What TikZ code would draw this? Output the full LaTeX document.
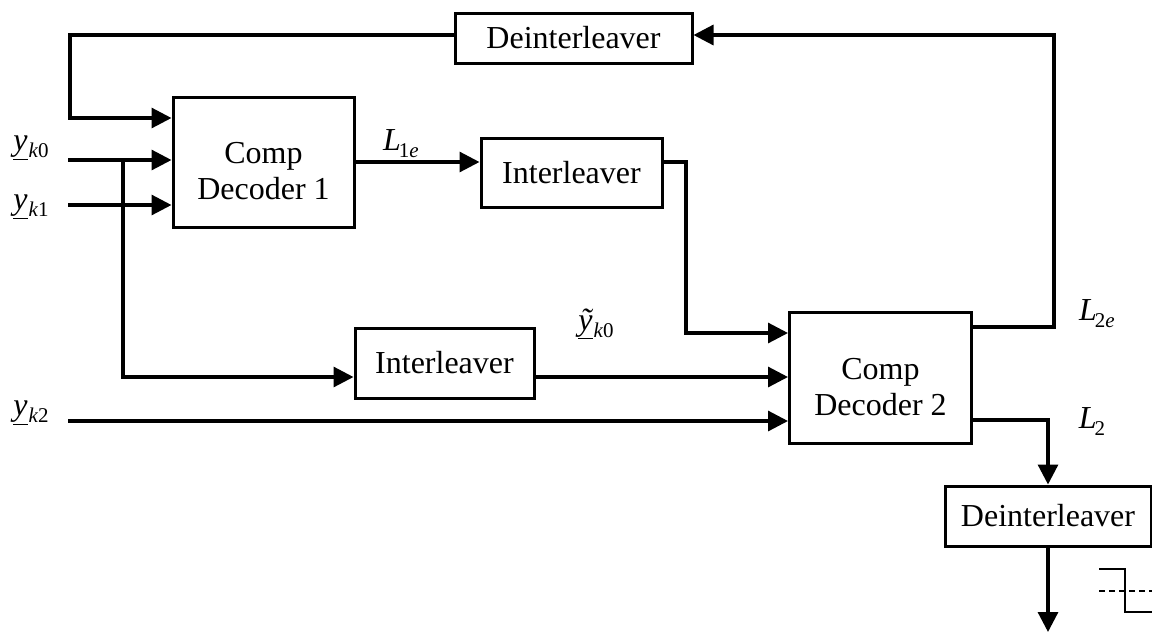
\documentclass[tikz,border=0pt]{standalone}
\usepackage{fontspec}
\setmainfont{Liberation Serif}
\usetikzlibrary{arrows.meta}
% subscripted signal names
\newcommand{\yvar}[2]{\underline{\itshape #1}\kern1pt\raisebox{-7pt}{\fontsize{21}{21}\selectfont\itshape k\upshape #2}}
\newcommand{\Lvar}[1]{{\itshape L}\kern-2pt\raisebox{-7pt}{\fontsize{21}{21}\selectfont #1}}
\newcommand{\twolines}[2]{\raisebox{-19pt}[0pt][0pt]{\begin{tabular}{@{}c@{}}#1\\#2\end{tabular}}}
\begin{document}
\begin{tikzpicture}[x=1pt,y=-1pt,
  blk/.style={draw, line width=3pt, inner sep=0pt,
    font=\fontsize{32}{36}\selectfont},
  sig/.style={inner sep=0pt, font=\fontsize{32}{32}\selectfont},
  arr/.style={line width=3.2pt, -{Triangle[length=20pt,width=20pt]}}]
\useasboundingbox (0,0) rectangle (1152,633);

% blocks
\node[blk, minimum width=237pt, minimum height=50pt] (dtop) at (573.5,38) {Deinterleaver};
\node[blk, minimum width=181pt, minimum height=130pt] (dec1) at (263.5,162) {\twolines{Comp}{Decoder 1}};
\node[blk, minimum width=181pt, minimum height=69pt] (int1) at (571.5,172.5) {Interleaver};
\node[blk, minimum width=179pt, minimum height=70pt] (int2) at (444.5,363) {Interleaver};
\node[blk, minimum width=182pt, minimum height=131pt] (dec2) at (880.5,377.5) {\twolines{Comp}{Decoder 2}};
\node[blk, minimum width=206pt, minimum height=60pt] (dbot) at (1048,516) {Deinterleaver};

% signal labels
\node[sig] (ly0) at (31,148) {\yvar{y}{0}};
\node[sig] (ly1) at (31,207) {\yvar{y}{1}};
\node[sig] (ly2) at (31,413) {\yvar{y}{2}};
\node[sig] (lyt) at (596,324) {\yvar{ỹ}{0}};
\node[sig] (l1e) at (401,144) {\Lvar{1\itshape e}};
\node[sig] (l2e) at (1097,314) {\Lvar{2\itshape e}};
\node[sig] (l2)  at (1092,422) {\Lvar{2}};

% routing points
\coordinate (in0) at (68,160);
\coordinate (in1) at (68,205);
\coordinate (in2) at (68,421);
\coordinate (br) at (123,160);
\coordinate (br2) at (123,377);
\coordinate (fbL) at (70,35);
\coordinate (fbD) at (70,118);
\coordinate (m1) at (400,162);
\coordinate (c1) at (686,162);
\coordinate (c2) at (686,333);
\coordinate (m2) at (600,377);
\coordinate (r1) at (1054,327);
\coordinate (r0) at (1054,35);
\coordinate (d1) at (1048,420);
\coordinate (out) at (1048,632);

% inputs
\draw[arr] (in0) -- (in0 -| dec1.west);
\draw[arr] (in1) -- (in1 -| dec1.west);
\draw[arr] (in2) -- (in2 -| dec2.west);
\draw[arr] (br) -- (br2) -- (br2 -| int2.west);

% feedback into decoder 1
\draw[arr] (dtop.west |- fbL) -- (fbL) -- (fbD) -- (fbD -| dec1.west);

% decoder 1 to decoder 2
\draw[arr] (dec1.east |- m1) -- (m1 -| int1.west);
\draw[arr] (int1.east |- c1) -- (c1) -- (c2) -- (c2 -| dec2.west);
\draw[arr] (int2.east |- m2) -- (m2 -| dec2.west);

% decoder 2 outputs
\draw[arr] (dec2.east |- r1) -- (r1) -- (r0) -- (r0 -| dtop.east);
\draw[arr] (dec2.east |- d1) -- (d1) -- (d1 |- dbot.north);
\draw[arr] (dbot.south -| out) -- (out);

% hard decision symbol
\draw[line width=2.2pt] (1099,569) -- (1125,569) -- (1125,612) -- (1152,612);
\draw[line width=2.2pt, dash pattern=on 6pt off 4pt] (1099,591) -- (1152,591);
\end{tikzpicture}
\end{document}
